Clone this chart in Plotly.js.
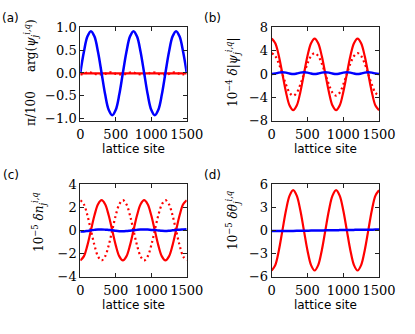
<!DOCTYPE html>
<html>
<head>
<meta charset="utf-8">
<script src="https://cdn.plot.ly/plotly-3.0.1.min.js"></script>
<style>
  body { margin: 0; background: #fff; }
  #plot { width: 415px; height: 334px; }
</style>
</head>
<body>
<div id="plot"></div>
<script>
// lattice sites sampled every 50
var site = [0, 50, 100, 150, 200, 250, 300, 350, 400, 450, 500, 550, 600, 650, 700, 750,
  800, 850, 900, 950, 1000, 1050, 1100, 1150, 1200, 1250, 1300, 1350, 1400, 1450, 1500];

// (a) phase, units of pi/100
var argBlue = [0, 0.46, 0.80, 0.92, 0.80, 0.46, 0, -0.47, -0.81, -0.93, -0.81, -0.47,
  0, 0.46, 0.80, 0.92, 0.80, 0.46, 0, -0.47, -0.81, -0.93, -0.81, -0.47,
  0, 0.46, 0.80, 0.92, 0.80, 0.46, 0];
var argRed = [-0.01, -0.01, -0.01, -0.01, -0.01, -0.01, -0.01, -0.01, -0.01, -0.01, -0.01,
  -0.01, -0.01, -0.01, -0.01, -0.01, -0.01, -0.01, -0.01, -0.01, -0.01, -0.01, -0.01,
  -0.01, -0.01, -0.01, -0.01, -0.01, -0.01, -0.01, -0.01];
var argRedDot = [-0.03, -0.02, 0.01, 0.01, -0.02, -0.03, -0.03, -0.02, 0.01, 0.01, -0.02, -0.03,
  -0.03, -0.02, 0.01, 0.01, -0.02, -0.03, -0.03, -0.02, 0.01, 0.01, -0.02, -0.03,
  -0.03, -0.02, 0.01, 0.01, -0.02, -0.03, -0.03];

// (b) modulus, units of 1e-4
var absRed = [6.1, 5.3, 3.1, 0, -3.1, -5.4, -6.2, -5.4, -3.1, 0, 3.1, 5.3,
  6.1, 5.3, 3.1, 0, -3.1, -5.4, -6.2, -5.4, -3.1, 0, 3.1, 5.3,
  6.1, 5.3, 3.1, 0, -3.1, -5.4, -6.2];
var absRedDot = [3.6, 3.1, 1.8, 0, -1.8, -3.2, -3.7, -3.2, -1.8, 0, 1.8, 3.1,
  3.6, 3.1, 1.8, 0, -1.8, -3.2, -3.7, -3.2, -1.8, 0, 1.8, 3.1,
  3.6, 3.1, 1.8, 0, -1.8, -3.2, -3.7];
var absBlue = [0.0, 0.1, 0.25, 0.3, 0.25, 0.1, 0.0, 0.1, 0.25, 0.3, 0.25, 0.1,
  0.0, 0.1, 0.25, 0.3, 0.25, 0.1, 0.0, 0.1, 0.25, 0.3, 0.25, 0.1,
  0.0, 0.1, 0.25, 0.3, 0.25, 0.1, 0.0];

// (c) density, units of 1e-5
var denRed = [-2.6, -2.25, -1.3, 0, 1.3, 2.25, 2.6, 2.25, 1.3, 0, -1.3, -2.25,
  -2.6, -2.25, -1.3, 0, 1.3, 2.25, 2.6, 2.25, 1.3, 0, -1.3, -2.25,
  -2.6, -2.25, -1.3, 0, 1.3, 2.25, 2.6];
var denRedDot = [2.6, 2.25, 1.3, 0, -1.3, -2.25, -2.6, -2.25, -1.3, 0, 1.3, 2.25,
  2.6, 2.25, 1.3, 0, -1.3, -2.25, -2.6, -2.25, -1.3, 0, 1.3, 2.25,
  2.6, 2.25, 1.3, 0, -1.3, -2.25, -2.6];
var denBlue = [-0.1, -0.09, -0.05, 0, 0.04, 0.07, 0.08, 0.06, 0.03, 0, -0.04, -0.07,
  -0.08, -0.06, -0.03, 0, 0.04, 0.07, 0.08, 0.07, 0.04, 0.02, -0.01, -0.04,
  -0.05, -0.03, 0, 0.03, 0.06, 0.08, 0.1];

// (d) phase difference, units of 1e-5
var phRed = [-5.2, -4.5, -2.6, 0, 2.6, 4.5, 5.2, 4.5, 2.6, 0, -2.6, -4.5,
  -5.2, -4.5, -2.6, 0, 2.6, 4.5, 5.2, 4.5, 2.6, 0, -2.6, -4.5,
  -5.2, -4.5, -2.6, 0, 2.6, 4.5, 5.2];
var phBlue = [-0.1, -0.1, -0.09, -0.09, -0.08, -0.08, -0.07, -0.06, -0.06, -0.05, -0.04, -0.03,
  -0.03, -0.02, -0.01, 0, 0.01, 0.02, 0.02, 0.03, 0.04, 0.05, 0.05, 0.06,
  0.07, 0.07, 0.08, 0.08, 0.09, 0.1, 0.1];

var RED = 'rgb(255, 0, 0)';
var BLUE = 'rgb(0, 0, 255)';

function line(y, color, xa, ya, dash, w) {
  return {
    x: site, y: y, xaxis: xa, yaxis: ya,
    type: 'scatter', mode: 'lines',
    line: {color: color, width: w || 2.2, dash: dash || 'solid', shape: 'spline', smoothing: 1},
    hoverinfo: 'skip'
  };
}

var data = [
  line(argRedDot, RED, 'x', 'y', '2px,3px'),
  line(argRed, RED, 'x', 'y'),
  line(argBlue, BLUE, 'x', 'y', null, 2.5),
  line(absRedDot, RED, 'x2', 'y2', '2px,3px'),
  line(absRed, RED, 'x2', 'y2'),
  line(absBlue, BLUE, 'x2', 'y2', null, 2.5),
  line(denRedDot, RED, 'x3', 'y3', '2px,3px'),
  line(denRed, RED, 'x3', 'y3'),
  line(denBlue, BLUE, 'x3', 'y3', null, 2.5),
  line(phRed, RED, 'x4', 'y4'),
  line(phBlue, BLUE, 'x4', 'y4', null, 2.5)
];

var tickFont = {family: 'DejaVu Serif', size: 13, color: '#000'};

function xax(domain, anchor) {
  return {
    domain: domain, anchor: anchor, range: [0, 1500],
    tickvals: [0, 500, 1000, 1500], ticks: 'inside', ticklen: 4, tickcolor: '#222',
    showline: true, linecolor: '#222', linewidth: 1, mirror: 'ticks',
    showgrid: false, zeroline: false, tickfont: tickFont, tickangle: 0, ticklabelstandoff: 2,
    title: {text: 'lattice site', font: {family: 'DejaVu Sans', size: 12, color: '#000'}, standoff: 2}
  };
}

function yax(domain, anchor, range, vals, fmt) {
  return {
    domain: domain, anchor: anchor, range: range,
    tickvals: vals, tickformat: fmt || '', ticks: 'inside', ticklen: 4, tickcolor: '#222',
    showline: true, linecolor: '#222', linewidth: 1, mirror: 'ticks',
    showgrid: false, zeroline: false, tickfont: tickFont
  };
}

var colL = [0.1935, 0.4499];
var colR = [0.6547, 0.9133];
var rowT = [0.6386, 0.9177];
var rowB = [0.1716, 0.4491];

var titleFont = {family: 'DejaVu Serif', size: 12, color: '#000'};
function ytitle(x, y, text) {
  return {xref: 'paper', yref: 'paper', x: x, y: y, xanchor: 'center', yanchor: 'middle',
    textangle: -90, showarrow: false, text: text, font: titleFont};
}
function tag(x, y, text) {
  return {xref: 'paper', yref: 'paper', x: x, y: y, xanchor: 'center', yanchor: 'middle',
    showarrow: false, text: text, font: {family: 'DejaVu Sans', size: 12, color: '#000'}};
}

var layout = {
  width: 415, height: 334,
  margin: {l: 0, r: 0, t: 0, b: 0},
  paper_bgcolor: '#fff', plot_bgcolor: '#fff',
  showlegend: false,
  xaxis: xax(colL, 'y'),
  yaxis: yax(rowT, 'x', [-1.05, 1.0], [-1, -0.5, 0, 0.5, 1], '.1f'),
  xaxis2: xax(colR, 'y2'),
  yaxis2: yax(rowT, 'x2', [-8, 8], [-8, -4, 0, 4, 8]),
  xaxis3: xax(colL, 'y3'),
  yaxis3: yax(rowB, 'x3', [-4, 4], [-4, -2, 0, 2, 4]),
  xaxis4: xax(colR, 'y4'),
  yaxis4: yax(rowB, 'x4', [-6, 6], [-6, -3, 0, 3, 6]),
  annotations: [
    tag(10 / 415, 1 - 18 / 334, '(a)'),
    tag(213 / 415, 1 - 18 / 334, '(b)'),
    tag(10.5 / 415, 1 - 175 / 334, '(c)'),
    tag(213 / 415, 1 - 175 / 334, '(d)'),
    ytitle(31 / 415, 1 - 73 / 334, 'π/100     arg(<i>ψ</i><sub><i>j</i></sub><sup><i>i,q</i></sup>)'),
    ytitle(233 / 415, 1 - 72 / 334, '10<sup>−4</sup> <i>δ</i>|<i>ψ</i><sub><i>j</i></sub><sup><i>i,q</i></sup>|'),
    ytitle(39 / 415, 1 - 222 / 334, '10<sup>−5</sup> <i>δn</i><sub><i>j</i></sub><sup><i>i,q</i></sup>'),
    ytitle(233 / 415, 1 - 221 / 334, '10<sup>−5</sup> <i>δθ</i><sub><i>j</i></sub><sup><i>i,q</i></sup>')
  ]
};

Plotly.newPlot('plot', data, layout, {displayModeBar: false});
</script>
</body>
</html>
